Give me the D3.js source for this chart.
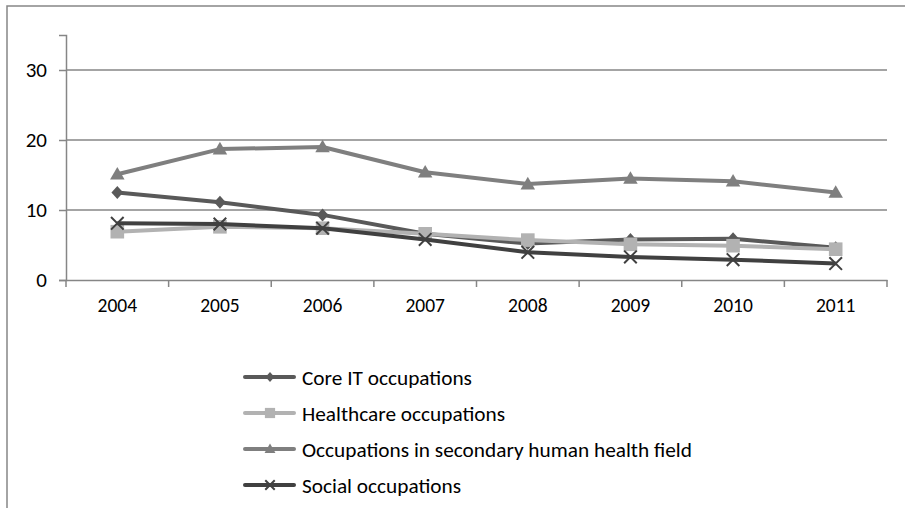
<!DOCTYPE html>
<html><head><meta charset="utf-8">
<script src="https://cdn.jsdelivr.net/npm/d3@7"></script>
<style>html,body{margin:0;padding:0;background:#fff;overflow:hidden}</style>
</head><body>
<svg id="c" width="905" height="508"></svg>
<script>
const years = ["2004","2005","2006","2007","2008","2009","2010","2011"];
const coreIT = [12.5, 11.1, 9.3, 6.6, 5.2, 5.8, 5.9, 4.6];
const healthcare = [6.9, 7.6, 7.4, 6.6, 5.7, 5.1, 4.9, 4.4];
const secondaryHealth = [15.1, 18.7, 19.0, 15.4, 13.7, 14.5, 14.1, 12.5];
const social = [8.1, 8.0, 7.4, 5.8, 3.95, 3.3, 2.9, 2.35];
const yTicks = [0, 10, 20, 30];
const seriesNames = ["Core IT occupations","Healthcare occupations","Occupations in secondary human health field","Social occupations"];

const series = [
  {name: seriesNames[0], values: coreIT, color: "#595959", marker: "diamond"},
  {name: seriesNames[1], values: healthcare, color: "#B2B2B2", marker: "square"},
  {name: seriesNames[2], values: secondaryHealth, color: "#7F7F7F", marker: "triangle"},
  {name: seriesNames[3], values: social, color: "#404040", marker: "x"}
];

const font = "Calibri, Carlito, Lato, sans-serif";
const svg = d3.select("#c");
const axisColor = "#868686";

// outer border (clipped at right/bottom)
svg.append("path").attr("d","M7,508 L7,6 L905,6").attr("fill","none")
  .attr("stroke",axisColor).attr("stroke-width",1.5);

const x = d3.scaleBand().domain(years).range([66, 887]);
const y = d3.scaleLinear().domain([0, 35]).range([280, 35]);

// gridlines
svg.append("g").selectAll("line").data(yTicks.filter(d=>d>0)).join("line")
  .attr("x1",66).attr("x2",887).attr("y1",d=>y(d)).attr("y2",d=>y(d))
  .attr("stroke",axisColor).attr("stroke-width",1.5);

// y axis
const yAxis = svg.append("g").attr("transform","translate(66,0)")
  .call(d3.axisLeft(y).tickValues(yTicks).tickSize(7).tickPadding(12).tickFormat(d3.format("d")));
yAxis.select(".domain").attr("stroke",axisColor).attr("stroke-width",1.5);
yAxis.selectAll(".tick line").attr("stroke",axisColor).attr("stroke-width",1.5);
yAxis.selectAll("text").attr("font-family",font).attr("font-size",21).attr("fill","#000");

// x axis
const xAxis = svg.append("g").attr("transform","translate(0,280)")
  .call(d3.axisBottom(x).tickSize(0).tickPadding(18));
xAxis.select(".domain").attr("stroke",axisColor).attr("stroke-width",1.5);
xAxis.selectAll("text").attr("font-family",font).attr("font-size",19.5).attr("fill","#000");
// tick marks at band boundaries
const bounds = years.map(d=>x(d)).concat([x(years[years.length-1]) + x.bandwidth()]);
svg.append("g").selectAll("line").data(bounds).join("line")
  .attr("x1",d=>d).attr("x2",d=>d).attr("y1",280).attr("y2",287)
  .attr("stroke",axisColor).attr("stroke-width",1.5);

const cx = d => x(d) + x.bandwidth()/2;

function drawMarker(g, type, px, py, s, color) {
  if (type === "diamond") {
    g.append("path").attr("d",`M${px},${py-s*1.05} L${px+s*0.95},${py} L${px},${py+s*1.05} L${px-s*0.95},${py} Z`).attr("fill",color);
  } else if (type === "square") {
    g.append("rect").attr("x",px-s).attr("y",py-s).attr("width",2*s).attr("height",2*s).attr("fill",color);
  } else if (type === "triangle") {
    g.append("path").attr("d",`M${px},${py-s*1.1} L${px+s*1.1},${py+s*0.8} L${px-s*1.1},${py+s*0.8} Z`).attr("fill",color);
  } else {
    g.append("path").attr("d",`M${px-s},${py-s} L${px+s},${py+s} M${px-s},${py+s} L${px+s},${py-s}`)
      .attr("stroke",color).attr("stroke-width",2).attr("fill","none");
  }
}

const line = d3.line().x((d,i)=>cx(years[i])).y(d=>y(d));
const sizes = {diamond:6.2, square:6.8, triangle:6.6, x:6.3};
series.forEach(s => {
  const g = svg.append("g");
  g.append("path").attr("d", line(s.values)).attr("fill","none")
    .attr("stroke", s.color).attr("stroke-width",4).attr("stroke-linejoin","round");
  s.values.forEach((v,i) => drawMarker(g, s.marker, cx(years[i]), y(v), sizes[s.marker], s.color));
});

// legend
const lg = svg.append("g");
series.forEach((s,i) => {
  const ly = 377 + i*36;
  lg.append("line").attr("x1",245).attr("x2",294).attr("y1",ly).attr("y2",ly)
    .attr("stroke",s.color).attr("stroke-width",4).attr("stroke-linecap","round");
  drawMarker(lg, s.marker, 270, ly, sizes[s.marker]*0.75, s.color);
  lg.append("text").attr("x",302).attr("y",ly).attr("dy","0.36em")
    .attr("font-family",font).attr("font-size",21.3).attr("fill","#000").text(s.name);
});
</script>
</body></html>
